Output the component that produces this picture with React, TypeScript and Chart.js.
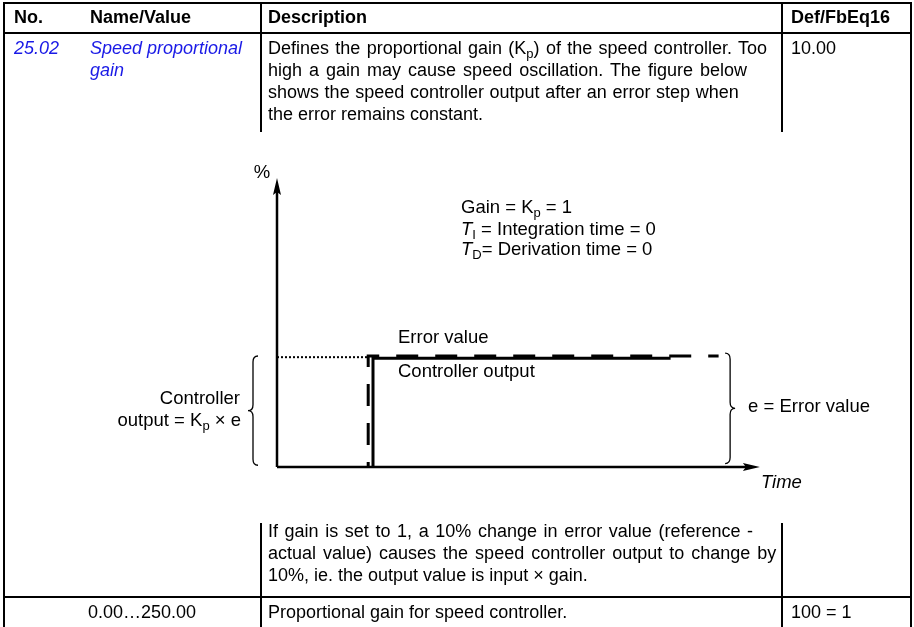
import React, { useEffect, useRef } from "react";
import { Chart, registerables } from "chart.js";

Chart.register(...registerables);

// ---------- Diagram data (x = time units, y = %) ----------
const AXIS_X_MAX = 10.06;
const AXIS_Y_MAX = 100;
const xAxisXs = [0, 9.8];
const xAxisYs = [0, 0];
const yAxisXs = [0, 0];
const yAxisYs = [0, 95.5];
const errorXs = [1.9, 1.9, 9.2];
const errorYs = [0, 38.4, 38.4];
const outputXs = [2.0, 2.0, 8.2];
const outputYs = [0, 37.6, 37.6];
const levelXs = [0, 1.9];
const levelYs = [38, 38];
const leftBraceX = -0.5;
const rightBraceX = 9.44;
const braceLow = 0.6;
const rightBraceHigh = 39.4;
const rightBraceLow = 1.2;

// ---------- Table text ----------
const headerLabels = ["No.", "Name/Value", "Description", "Def/FbEq16"];
const paramNo = "25.02";
const paramName = ["Speed proportional", "gain"];
const paramDefault = "10.00";
const descLines = [
  "of the speed controller. Too",
  "high a gain may cause speed oscillation. The figure below",
  "shows the speed controller output after an error step when",
  "the error remains constant.",
];
const noteLines = [
  "If gain is set to 1, a 10% change in error value (reference -",
  "actual value) causes the speed controller output to change by",
  "10%, ie. the output value is input \u00d7 gain.",
];
const rangeText = "0.00\u2026250.00";
const rangeDesc = "Proportional gain for speed controller.";
const rangeScale = "100 = 1";

const FONT = '"Liberation Sans", Arial, Helvetica, sans-serif';
const FS = 18;
const CFS = 18.5;
const BLUE = "#1a1ae6";
const descSpacing = [1.3, 2.0, 0.6, 0];
const noteSpacing = [1.6, 2.0, 0];

type Seg = { t: string; sub?: boolean; it?: boolean };

function segFont(s: Seg, size: number) {
  return `${s.it ? "italic " : ""}${s.sub ? Math.round(size * 0.7) : size}px ${FONT}`;
}

function drawRich(ctx: CanvasRenderingContext2D, segs: Seg[], x: number, y: number, align: "left" | "right", size: number) {
  ctx.textBaseline = "middle";
  ctx.textAlign = "left";
  let total = 0;
  for (const s of segs) {
    ctx.font = segFont(s, size);
    total += ctx.measureText(s.t).width;
  }
  let cx = align === "right" ? x - total : x;
  for (const s of segs) {
    ctx.font = segFont(s, size);
    ctx.fillText(s.t, cx, s.sub ? y + 5 : y);
    cx += ctx.measureText(s.t).width;
  }
}

function drawBrace(ctx: CanvasRenderingContext2D, bx: number, top: number, bottom: number, dir: number) {
  const w = 5;
  const r = 6;
  const mid = (top + bottom) / 2;
  ctx.beginPath();
  ctx.moveTo(bx - dir * w, top);
  ctx.quadraticCurveTo(bx, top, bx, top + r);
  ctx.lineTo(bx, mid - r);
  ctx.quadraticCurveTo(bx, mid, bx + dir * w, mid);
  ctx.quadraticCurveTo(bx, mid, bx, mid + r);
  ctx.lineTo(bx, bottom - r);
  ctx.quadraticCurveTo(bx, bottom, bx - dir * w, bottom);
  ctx.stroke();
}

const diagramPlugin = {
  id: "diagram",
  afterDatasetsDraw(chart: any) {
    const { ctx } = chart;
    const xs = chart.scales.x;
    const ys = chart.scales.y;
    const px = (v: number) => xs.getPixelForValue(v);
    const py = (v: number) => ys.getPixelForValue(v);
    const x0 = px(0);
    const y0 = py(0);
    ctx.save();
    ctx.fillStyle = "#000";
    ctx.strokeStyle = "#000";
    // arrowheads
    const tx = px(AXIS_X_MAX);
    ctx.beginPath();
    ctx.moveTo(tx, y0);
    ctx.lineTo(tx - 17, y0 - 4);
    ctx.lineTo(tx - 14, y0);
    ctx.lineTo(tx - 17, y0 + 4);
    ctx.closePath();
    ctx.fill();
    const ty = py(AXIS_Y_MAX);
    ctx.beginPath();
    ctx.moveTo(x0, ty);
    ctx.lineTo(x0 - 4, ty + 17);
    ctx.lineTo(x0, ty + 14);
    ctx.lineTo(x0 + 4, ty + 17);
    ctx.closePath();
    ctx.fill();
    // braces
    ctx.lineWidth = 1.3;
    drawBrace(ctx, px(leftBraceX), py(errorYs[1]), py(braceLow), -1);
    drawBrace(ctx, px(rightBraceX), py(rightBraceHigh), py(rightBraceLow), 1);
    // labels
    ctx.fillStyle = "#000";
    ctx.font = `${CFS}px ${FONT}`;
    ctx.textAlign = "center";
    ctx.textBaseline = "middle";
    ctx.fillText("%", x0 - 15, ty - 5);
    const gx = x0 + 184;
    drawRich(ctx, [{ t: "Gain = K" }, { t: "p", sub: true }, { t: " = 1" }], gx, 208, "left", CFS);
    drawRich(ctx, [{ t: "T", it: true }, { t: "I", sub: true }, { t: " = Integration time = 0" }], gx, 230, "left", CFS);
    drawRich(ctx, [{ t: "T", it: true }, { t: "D", sub: true }, { t: "= Derivation time = 0" }], gx, 250, "left", CFS);
    const lx = px(2.0) + 25;
    drawRich(ctx, [{ t: "Error value" }], lx, py(errorYs[1]) - 18, "left", CFS);
    drawRich(ctx, [{ t: "Controller output" }], lx, py(outputYs[1]) + 14, "left", CFS);
    drawRich(ctx, [{ t: "Controller" }], x0 - 37, 399, "right", CFS);
    drawRich(ctx, [{ t: "output = K" }, { t: "p", sub: true }, { t: " \u00d7 e" }], x0 - 36, 421, "right", CFS);
    drawRich(ctx, [{ t: "e = Error value" }], px(rightBraceX) + 18, 407, "left", CFS);
    drawRich(ctx, [{ t: "Time", it: true }], tx + 1, y0 + 16, "left", CFS);
    ctx.restore();
  },
};

function pts(xsArr: number[], ysArr: number[]) {
  return xsArr.map((v, i) => ({ x: v, y: ysArr[i] }));
}

function Line({ l, t, w, h }: { l: number; t: number; w: number; h: number }) {
  return <div style={{ position: "absolute", left: l, top: t, width: w, height: h, background: "#000" }} />;
}

function Txt({ x, y, children, bold, italic, color, ws }: any) {
  return (
    <div
      style={{
        position: "absolute",
        left: x,
        top: y - 11,
        height: 22,
        lineHeight: "22px",
        whiteSpace: "nowrap",
        fontFamily: FONT,
        fontSize: FS,
        fontWeight: bold ? "bold" : "normal",
        fontStyle: italic ? "italic" : "normal",
        wordSpacing: ws ? ws : 0,
        color: color || "#000",
      }}
    >
      {children}
    </div>
  );
}

const subStyle: React.CSSProperties = { fontSize: 13, verticalAlign: "-4px", lineHeight: 0 };

export default function App() {
  const ref = useRef<HTMLCanvasElement>(null);
  useEffect(() => {
    if (!ref.current) return;
    const solid = { borderColor: "#000", pointRadius: 0, tension: 0, fill: false, showLine: true, clip: false as any };
    const chart = new Chart(ref.current, {
      type: "scatter",
      data: {
        datasets: [
          { ...solid, label: "x axis", data: pts(xAxisXs, xAxisYs), borderWidth: 2.5 },
          { ...solid, label: "y axis", data: pts(yAxisXs, yAxisYs), borderWidth: 2.5 },
          { ...solid, label: "level", data: pts(levelXs, levelYs), borderWidth: 2, borderDash: [2, 2] },
          { ...solid, label: "Controller output", data: pts(outputXs, outputYs), borderWidth: 3, borderCapStyle: "butt" },
          { ...solid, label: "Error value", data: pts(errorXs, errorYs), borderWidth: 3, borderDash: [22, 17], borderDashOffset: 17 },
        ],
      },
      options: {
        animation: false,
        responsive: false,
        events: [],
        layout: { padding: { left: 277, right: 157, top: 178, bottom: 160 } },
        scales: {
          x: { type: "linear", min: 0, max: 10, display: false },
          y: { type: "linear", min: 0, max: 100, display: false },
        },
        plugins: { legend: { display: false }, tooltip: { enabled: false } },
      },
      plugins: [diagramPlugin],
    });
    return () => chart.destroy();
  }, []);

  return (
    <div style={{ position: "fixed", left: 0, top: 0, width: 914, height: 627, background: "#fff", overflow: "hidden" }}>
      <canvas ref={ref} width={914} height={627} style={{ position: "absolute", left: 0, top: 0, width: 914, height: 627 }} />
      {/* table rules */}
      <Line l={3} t={2} w={909} h={2} />
      <Line l={3} t={32} w={909} h={2} />
      <Line l={3} t={596} w={909} h={2} />
      <Line l={3} t={2} w={2} h={625} />
      <Line l={910} t={2} w={2} h={625} />
      <Line l={260} t={2} w={2} h={130} />
      <Line l={781} t={2} w={2} h={130} />
      <Line l={260} t={523} w={2} h={104} />
      <Line l={781} t={523} w={2} h={104} />
      {/* header */}
      <Txt x={14} y={17} bold>{headerLabels[0]}</Txt>
      <Txt x={90} y={17} bold>{headerLabels[1]}</Txt>
      <Txt x={268} y={17} bold>{headerLabels[2]}</Txt>
      <Txt x={791} y={17} bold>{headerLabels[3]}</Txt>
      {/* parameter row */}
      <Txt x={14} y={48} italic color={BLUE}>{paramNo}</Txt>
      <Txt x={90} y={48} italic color={BLUE}>{paramName[0]}</Txt>
      <Txt x={90} y={70} italic color={BLUE}>{paramName[1]}</Txt>
      <Txt x={268} y={48} ws={descSpacing[0]}>
        Defines the proportional gain (K<span style={subStyle}>p</span>) {descLines[0]}
      </Txt>
      {descLines.slice(1).map((s, i) => (
        <Txt key={i} x={268} y={70 + i * 22} ws={descSpacing[i + 1]}>{s}</Txt>
      ))}
      <Txt x={791} y={48}>{paramDefault}</Txt>
      {noteLines.map((s, i) => (
        <Txt key={"n" + i} x={268} y={531 + i * 22} ws={noteSpacing[i]}>{s}</Txt>
      ))}
      {/* range row */}
      <Txt x={88} y={612}>{rangeText}</Txt>
      <Txt x={268} y={612}>{rangeDesc}</Txt>
      <Txt x={791} y={612}>{rangeScale}</Txt>
    </div>
  );
}
